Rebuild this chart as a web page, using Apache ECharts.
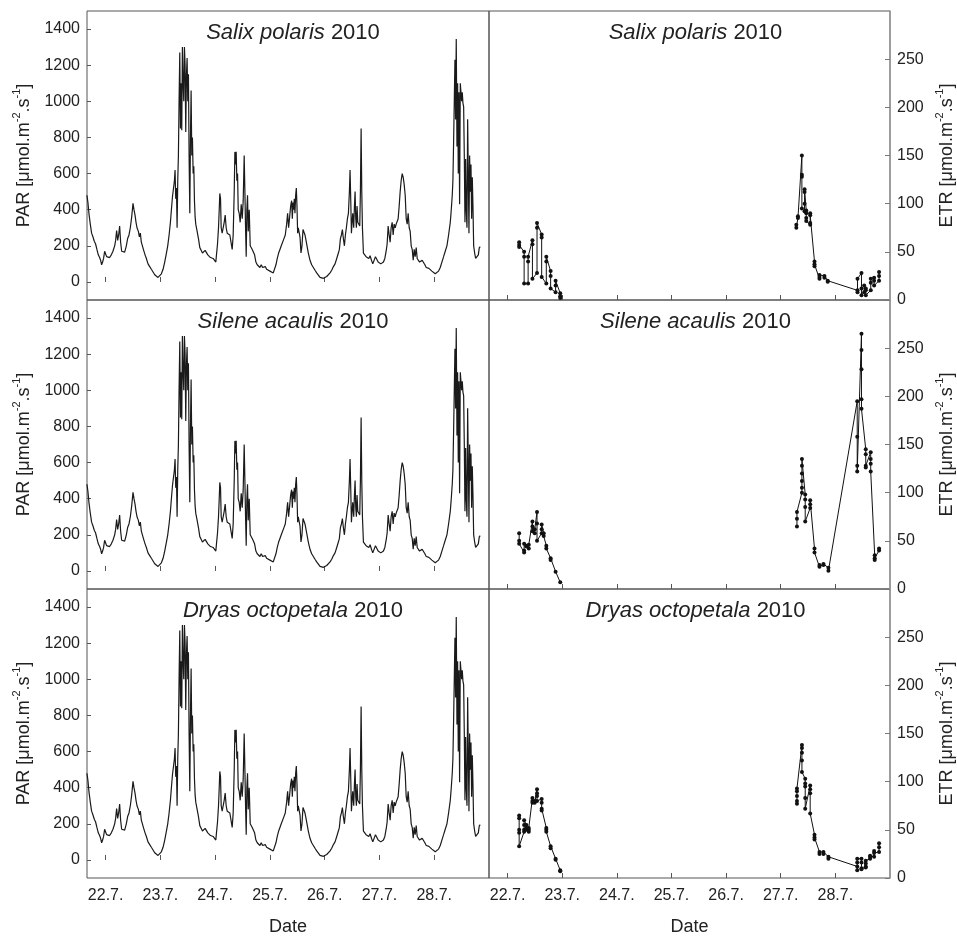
<!DOCTYPE html>
<html><head><meta charset="utf-8">
<script src="https://cdn.jsdelivr.net/npm/echarts@6/dist/echarts.min.js"></script>
<style>html,body{margin:0;padding:0;background:#fff}#c{width:957px;height:937px}</style>
</head><body><div id="c"></div>
<script>
const species = ['Salix polaris', 'Silene acaulis', 'Dryas octopetala'];
const year = '2010';
const dayTicks = [22, 23, 24, 25, 26, 27, 28];
const parTicks = [0, 200, 400, 600, 800, 1000, 1200, 1400];
const etrTicks = [0, 50, 100, 150, 200, 250];

// PAR record [decimal day of July, PAR]
const par = [
[21.659,480],[21.677,440],[21.695,380],[21.720,320],[21.744,270],[21.768,250],[21.793,225],[21.817,210],[21.841,180],[21.866,150],
[21.890,135],[21.909,120],[21.927,95],[21.945,110],[21.963,130],[21.982,170],[22.000,155],[22.018,140],[22.043,130],[22.073,135],
[22.104,150],[22.134,170],[22.165,200],[22.183,230],[22.201,285],[22.220,230],[22.238,260],[22.256,310],[22.274,220],[22.293,170],
[22.317,165],[22.348,165],[22.378,200],[22.402,240],[22.427,260],[22.451,300],[22.476,360],[22.500,435],[22.518,400],[22.537,370],
[22.555,330],[22.573,300],[22.598,280],[22.616,250],[22.634,270],[22.652,220],[22.671,215],[22.695,175],[22.720,150],[22.744,130],
[22.774,100],[22.805,85],[22.835,70],[22.866,55],[22.896,40],[22.927,30],[22.957,25],[22.988,30],[23.018,45],[23.049,70],
[23.079,110],[23.110,160],[23.134,200],[23.159,260],[23.183,330],[23.201,400],[23.220,470],[23.238,480],[23.256,560],[23.268,620],
[23.280,460],[23.293,520],[23.305,300],[23.317,560],[23.329,700],[23.341,1000],[23.354,1270],[23.366,850],[23.378,1100],[23.390,840],
[23.402,1300],[23.415,1100],[23.427,1000],[23.439,1300],[23.451,1200],[23.463,830],[23.476,1150],[23.488,1240],[23.500,1000],[23.512,1150],
[23.524,700],[23.537,380],[23.549,800],[23.561,1060],[23.573,700],[23.585,800],[23.598,600],[23.610,640],[23.622,450],[23.634,360],
[23.646,320],[23.671,280],[23.695,240],[23.720,190],[23.744,175],[23.768,160],[23.793,150],[23.817,175],[23.841,170],[23.866,150],
[23.890,145],[23.915,135],[23.939,140],[23.963,130],[23.988,120],[24.012,110],[24.024,150],[24.043,210],[24.061,300],[24.073,390],
[24.085,490],[24.098,460],[24.110,300],[24.128,270],[24.146,280],[24.165,330],[24.183,370],[24.201,300],[24.220,270],[24.244,280],
[24.268,260],[24.293,270],[24.311,180],[24.329,260],[24.348,500],[24.360,720],[24.372,650],[24.384,720],[24.396,560],[24.409,600],
[24.421,400],[24.439,380],[24.457,330],[24.476,430],[24.494,350],[24.512,450],[24.530,700],[24.543,500],[24.555,300],[24.567,140],
[24.579,400],[24.591,480],[24.604,280],[24.622,400],[24.640,200],[24.659,190],[24.677,180],[24.695,170],[24.720,150],[24.744,110],
[24.768,95],[24.793,90],[24.817,80],[24.841,95],[24.866,80],[24.890,90],[24.915,85],[24.939,70],[24.970,70],[25.000,60],
[25.030,55],[25.061,50],[25.085,60],[25.110,95],[25.134,130],[25.159,160],[25.183,180],[25.207,200],[25.232,210],[25.256,240],
[25.280,260],[25.305,320],[25.323,380],[25.341,300],[25.360,360],[25.378,420],[25.396,450],[25.409,350],[25.421,440],[25.433,400],
[25.445,460],[25.457,380],[25.470,480],[25.482,520],[25.494,420],[25.506,270],[25.518,300],[25.537,310],[25.549,250],[25.567,160],
[25.585,200],[25.604,290],[25.622,280],[25.640,260],[25.659,230],[25.677,200],[25.701,160],[25.732,120],[25.762,95],[25.793,80],
[25.823,65],[25.854,50],[25.884,40],[25.915,25],[25.945,20],[25.976,20],[26.006,25],[26.037,30],[26.067,35],[26.098,50],
[26.128,65],[26.159,85],[26.189,100],[26.220,130],[26.250,160],[26.268,180],[26.287,240],[26.305,260],[26.323,290],[26.341,240],
[26.360,200],[26.378,260],[26.396,300],[26.415,350],[26.433,380],[26.451,500],[26.463,620],[26.476,450],[26.488,270],[26.500,330],
[26.512,380],[26.530,300],[26.543,420],[26.555,500],[26.567,350],[26.579,300],[26.591,420],[26.604,330],[26.622,320],[26.640,310],
[26.652,500],[26.665,850],[26.677,500],[26.689,300],[26.707,160],[26.732,150],[26.756,140],[26.780,140],[26.805,130],[26.829,145],
[26.854,120],[26.878,100],[26.902,110],[26.927,140],[26.951,130],[26.976,110],[27.000,120],[27.024,100],[27.049,95],[27.073,110],
[27.098,130],[27.122,170],[27.140,210],[27.159,310],[27.177,260],[27.195,220],[27.213,300],[27.232,330],[27.250,260],[27.268,320],
[27.287,300],[27.305,320],[27.323,310],[27.341,350],[27.360,420],[27.378,500],[27.396,560],[27.415,600],[27.433,580],[27.451,540],
[27.470,480],[27.488,350],[27.506,320],[27.524,380],[27.543,300],[27.561,280],[27.579,200],[27.598,180],[27.616,120],[27.634,180],
[27.652,140],[27.671,190],[27.689,130],[27.707,120],[27.732,110],[27.756,100],[27.780,120],[27.805,110],[27.829,95],[27.854,80],
[27.878,85],[27.902,75],[27.927,65],[27.957,60],[27.988,55],[28.018,45],[28.049,50],[28.079,60],[28.110,80],[28.140,110],
[28.171,140],[28.201,170],[28.232,200],[28.262,260],[28.293,330],[28.311,400],[28.329,480],[28.341,560],[28.354,780],[28.366,1000],
[28.378,1230],[28.390,900],[28.402,1345],[28.415,750],[28.427,1100],[28.439,600],[28.451,1050],[28.463,430],[28.476,1100],[28.488,1110],
[28.500,1000],[28.512,1050],[28.524,990],[28.537,970],[28.549,700],[28.561,330],[28.573,680],[28.585,400],[28.598,300],[28.610,900],
[28.622,600],[28.634,270],[28.646,700],[28.659,500],[28.671,650],[28.683,350],[28.695,580],[28.707,420],[28.720,200],[28.738,160],
[28.756,130],[28.780,140],[28.805,150],[28.823,190],[28.841,195]
];

// ETR measurements [day, value]
const etrSalix = [
 [22.212,60],[22.212,57],[22.212,55],
 [22.303,50],[22.303,45],[22.303,17],
 [22.376,17],[22.376,40],[22.376,45],
 [22.455,62],[22.455,58],[22.455,22],
 [22.539,28],[22.539,75],[22.539,80],
 [22.624,68],[22.624,65],[22.624,24],
 [22.709,17],[22.709,40],[22.709,45],
 [22.788,30],[22.788,25],[22.788,12],
 [22.879,8],[22.879,15],[22.879,20],
 [22.964,7],[22.964,4],[22.964,2],
 [27.285,78],[27.285,75],
 [27.315,85],[27.315,87],
 [27.387,150],[27.387,130],[27.387,128],[27.387,95],
 [27.436,92],[27.436,100],[27.436,112],[27.436,115],
 [27.467,93],[27.467,90],[27.467,85],[27.467,82],
 [27.539,78],[27.539,80],[27.539,88],[27.539,90],
 [27.618,40],[27.618,37],[27.618,35],
 [27.709,22],[27.709,24],[27.709,26],
 [27.800,25],[27.800,23],
 [27.860,20],[27.860,19],
 [28.405,10],[28.405,8],[28.405,22],
 [28.478,28],[28.478,12],[28.478,5],
 [28.527,8],[28.527,15],
 [28.557,12],[28.557,10],[28.557,5],
 [28.648,10],[28.648,18],[28.648,22],
 [28.709,23],[28.709,20],[28.709,15],
 [28.800,20],[28.800,25],[28.800,29]
];
const etrSilene = [
 [22.212,58],[22.212,50],[22.212,47],
 [22.303,38],[22.303,40],[22.303,47],
 [22.345,45],[22.345,44],
 [22.388,42],[22.388,46],
 [22.455,70],[22.455,65],[22.455,60],
 [22.497,58],[22.497,62],
 [22.539,80],[22.539,68],[22.539,50],
 [22.624,58],[22.624,62],[22.624,67],
 [22.661,58],[22.661,55],
 [22.709,45],[22.709,42],
 [22.788,32],[22.788,30],
 [22.879,18],
 [22.964,7],
 [27.297,65],[27.297,73],[27.297,80],
 [27.388,100],[27.388,105],[27.388,112],[27.388,120],[27.388,128],[27.388,135],
 [27.448,98],[27.448,93],[27.448,85],[27.448,70],
 [27.539,84],[27.539,88],[27.539,92],
 [27.618,42],[27.618,38],
 [27.709,23],[27.709,25],
 [27.782,26],[27.782,25],
 [27.873,22],[27.873,19],
 [28.400,195],[28.400,158],[28.400,128],[28.400,122],
 [28.478,265],[28.478,248],[28.478,228],[28.478,197],[28.478,187],
 [28.556,145],[28.556,140],[28.556,128],[28.556,126],
 [28.647,142],[28.647,135],[28.647,130],[28.647,122],
 [28.720,35],[28.720,32],[28.720,30],
 [28.800,40],[28.800,42]
];
const etrDryas = [
 [22.212,65],[22.212,62],[22.212,50],[22.212,47],[22.212,33],
 [22.303,48],[22.303,50],[22.303,55],[22.303,60],
 [22.345,55],[22.345,52],[22.345,50],
 [22.388,48],[22.388,50],[22.388,52],
 [22.455,83],[22.455,80],[22.455,78],
 [22.497,78],[22.497,80],
 [22.539,92],[22.539,88],[22.539,85],[22.539,80],
 [22.624,82],[22.624,78],[22.624,72],[22.624,70],
 [22.709,52],[22.709,50],[22.709,48],
 [22.788,33],[22.788,31],
 [22.879,20],[22.879,19],
 [22.964,8],[22.964,7],
 [27.297,77],[27.297,80],[27.297,85],[27.297,90],[27.297,93],
 [27.388,138],[27.388,135],[27.388,130],[27.388,122],[27.388,110],
 [27.448,103],[27.448,98],[27.448,95],[27.448,83],[27.448,72],
 [27.539,96],[27.539,92],[27.539,88],[27.539,67],
 [27.618,45],[27.618,42],[27.618,40],
 [27.709,27],[27.709,25],
 [27.782,27],[27.782,25],
 [27.873,22],[27.873,20],
 [28.400,12],[28.400,8],[28.400,16],[28.400,20],
 [28.478,20],[28.478,16],[28.478,10],[28.478,9],
 [28.556,11],[28.556,12],[28.556,15],[28.556,18],
 [28.636,20],[28.636,22],[28.636,23],
 [28.709,22],[28.709,26],[28.709,28],
 [28.800,27],[28.800,32],[28.800,36]
];
const etrSets = [etrSalix, etrSilene, etrDryas];

const FONT = 'Liberation Sans, Arial, sans-serif';
const TXT = '#222';
const X_MIN = 21.66, X_MAX = 29.0;
const rowTop = [11, 300, 589];
const rowH = 289;
const leftL = 87, leftW = 402, rightL = 489, rightW = 403;

// split measurement campaigns (separate measurement days are not joined)
function splitRuns(arr) {
  const runs = [[]];
  arr.forEach((p, i) => {
    if (i > 0 && p[0] - arr[i - 1][0] > 2) runs.push([]);
    runs[runs.length - 1].push(p);
  });
  return runs;
}

const grids = [], xAxes = [], yAxes = [], series = [], titles = [];
const nameRich = {
  t: {fontSize: 18, fontFamily: FONT, color: TXT, lineHeight: 22, verticalAlign: 'bottom'},
  s: {fontSize: 11, fontFamily: FONT, color: TXT, lineHeight: 12, verticalAlign: 'top'}
};
const fmtDay = v => v + '.7.';
const fmtNum = v => String(v);

for (let r = 0; r < 3; r++) {
  const bottom = r === 2;
  for (let c = 0; c < 2; c++) {
    const gi = r * 2 + c;
    grids.push({left: c === 0 ? leftL : rightL, top: rowTop[r], width: c === 0 ? leftW : rightW, height: rowH,
      show: true, borderColor: '#555', borderWidth: 1, containLabel: false});
    xAxes.push({
      gridIndex: gi, type: 'value', min: X_MIN, max: X_MAX,
      axisLine: {show: false}, splitLine: {show: false},
      axisTick: {show: true, inside: true, length: 5, customValues: dayTicks, lineStyle: {color: '#555'}},
      axisLabel: {show: bottom, customValues: dayTicks, formatter: fmtDay, fontSize: 16, fontFamily: FONT, color: TXT, margin: 10},
      name: bottom ? 'Date' : '', nameLocation: 'middle', nameGap: 40,
      nameTextStyle: {fontSize: 18, fontFamily: FONT, color: TXT}
    });
    if (c === 0) {
      yAxes.push({
        gridIndex: gi, type: 'value', min: -100, max: 1500, position: 'left',
        axisLine: {show: false}, splitLine: {show: false},
        axisTick: {show: true, inside: true, length: 4, customValues: parTicks, lineStyle: {color: '#555'}},
        axisLabel: {customValues: parTicks, formatter: fmtNum, fontSize: 16, fontFamily: FONT, color: TXT, margin: 7},
        name: '{t|PAR [μmol.m}{s|-2}{t|.s}{s|-1}{t|]}', nameLocation: 'middle', nameGap: 54, nameRotate: 90,
        nameTextStyle: {rich: nameRich}
      });
    } else {
      yAxes.push({
        gridIndex: gi, type: 'value', min: 0, max: 300, position: 'right',
        axisLine: {show: true, lineStyle: {color: '#999', width: 1.5}}, splitLine: {show: false},
        axisTick: {show: true, inside: true, length: 5, customValues: etrTicks, lineStyle: {color: '#777'}},
        axisLabel: {customValues: etrTicks, formatter: fmtNum, fontSize: 16, fontFamily: FONT, color: TXT, margin: 7},
        name: '{t|ETR [μmol.m}{s|-2}{t|.s}{s|-1}{t|]}', nameLocation: 'middle', nameGap: 44, nameRotate: 90,
        nameTextStyle: {rich: nameRich}
      });
    }
    titles.push({
      text: '{i|' + species[r] + '}{n| ' + year + '}',
      left: (c === 0 ? leftL + leftW / 2 : rightL + rightW / 2), top: rowTop[r] + 6, textAlign: 'center',
      textStyle: {fontWeight: 'normal', rich: {
        i: {fontSize: 22, fontStyle: 'italic', fontWeight: 'normal', fontFamily: FONT, color: TXT},
        n: {fontSize: 22, fontWeight: 'normal', fontFamily: FONT, color: TXT}
      }}
    });
  }
  series.push({
    type: 'line', xAxisIndex: r * 2, yAxisIndex: r * 2, data: par,
    showSymbol: false, symbol: 'none', lineStyle: {color: '#1a1a1a', width: 1.2}, animation: false
  });
  splitRuns(etrSets[r]).forEach(run => {
    series.push({
      type: 'line', xAxisIndex: r * 2 + 1, yAxisIndex: r * 2 + 1, data: run,
      symbol: 'circle', symbolSize: 4, itemStyle: {color: '#111'},
      lineStyle: {color: '#111', width: 1}, animation: false
    });
  });
}

const chart = echarts.init(document.getElementById('c'), null, {renderer: 'canvas'});
chart.setOption({
  animation: false, backgroundColor: '#fff',
  title: titles, grid: grids, xAxis: xAxes, yAxis: yAxes, series: series
});
</script>
</body></html>
